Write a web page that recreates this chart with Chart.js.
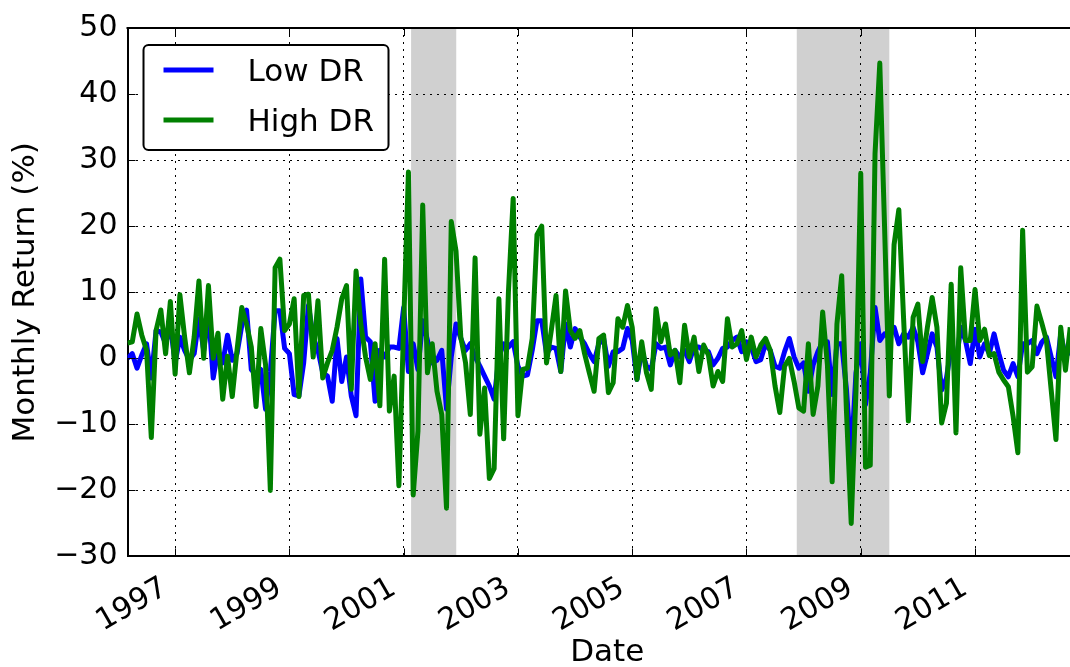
<!DOCTYPE html>
<html lang="en">
<head>
<meta charset="UTF-8">
<title>Monthly Return: Low DR vs High DR</title>
<script src="https://cdn.jsdelivr.net/npm/chart.js"></script>
<style>
  html, body { margin: 0; background: #fff; overflow: hidden; }
</style>
</head>
<body>
<!-- the axes run a little past the right edge of the window, as in the original figure -->
<canvas id="returnsChart" width="1087" height="667"></canvas>
<script>
// first point of the series: end of Feb 1996, one value per month
var startYear = 1996;
var startMonth = 2;

var lowDR = [
  0, 0.7, -1.5, 0.5, 2.2, -3, 4.2, 4, 2.2, 5, -0.7, 3.2, 1.2, -0.3, 0.7, 6, 1.2, 7, -3, 1.2,
  -0.7, 3.5, -0.3, 0.7, 5, 7.3, -1.7, -2.5, -1.7, -7.7, -2, 7.2, 7.2, 1.5, 0.7, -5.5, -5.7, -0.7, 8, 3.2,
  1.2, -2.2, -2.7, -6.5, 3, -3.5, 0.2, -5.7, -8.7, 12, 3.2, 2.5, -6.5, 1.2, 0.2, 1.7, 1.7, 1.5, 7.7, -2,
  2.2, -1.7, 5.7, 2.7, -0.7, -0.3, 1.2, -7.7, 0.2, 5.2, 3, 1.2, 2.2, 0.2, -1.2, -2.7, -4.2, -6.2, 0.2, 2.2,
  1.7, 2.5, -1.2, -2.7, -2.5, 1.2, 5.7, 5.7, 0.7, 1.7, 1.5, -2, 5.2, 1.7, 4.5, 3.2, 2.2, 0.7, -0.5, 2.2,
  3, -1.2, 1, 1, 1.5, 4.5, 2.7, -3.2, 1.2, -1.2, -1.7, 2.2, 1.5, 1.7, -1, 1.2, 0.2, 1.2, -0.5, 1.7,
  1.7, 1.2, 1, -1, 0, 1.5, 1.7, 2.7, 3.2, 1, 2.5, 1.7, -0.5, -0.2, 2.2, 1.2, -1.2, -1.5, 1, 3,
  0.2, -1.5, -0.7, -5, -1, 1, 2.5, 2.5, -5.5, 2.2, 2.2, -4.7, -15, -2.2, 2.2, -7, -2.2, 7.7, 2.7, 3.7,
  3.2, 4.7, 2.2, 3.7, 3.2, 4.7, 2.5, -2.2, 0.7, 3.7, 1.7, -4.8, -3, 1.7, -0.8, 4.7, 2.7, -0.8, 4.4, 0.2,
  2.2, 0.7, 3.7, 0.7, -1.8, -2.8, -0.8, -2.8, 2.2, 2.2, 2.7, 0.7, 2.4, 3.2, 0.2, -2.8, 3.7, 0.2, 1.2
];

var highDR = [
  2.3, 2.5, 6.7, 3.5, 1.2, -12, 4.2, 7.3, 0.7, 8.6, -2.4, 9.6, 3.2, -2.2, 3.2, 11.7, 0, 11, 0, 3.8,
  -6.2, 0.3, -5.8, 1.2, 7.7, 5.2, 1.7, -7.3, 4.5, -1, -20, 13.7, 15, 4.2, 5.2, 9, -5.8, 9.5, 9.7, 0.2,
  8.7, -3, -0.7, 1.2, 4.7, 9, 11, -4.7, 13.2, 5.2, 0.2, -3.2, 2.2, -7.2, 15, -8, -2.7, -19.3, 5, 28.2,
  -20.7, -11, 23.2, -2.2, 2.2, -5, -8.5, -22.7, 20.7, 16.2, 3.2, -0.7, -8.5, 15.2, -11.5, -4.5, -18.2, -16.7, 9, -12.2,
  10, 24.2, -8.7, -1.7, -1.5, 3, 18.7, 20, -0.7, 4.2, 9.5, -2, 10.2, 4.2, 3, 4.2, 0.7, -2.2, -5, 3,
  3.5, -5.2, -3.7, 6, 4.7, 8, 4.7, -3.2, 2.5, -2.2, -4.7, 7.5, 2.5, 5.2, 0.5, 1.2, -3.7, 5, 0.2, 3.2,
  -2, 2, 0.5, -4.2, -2, -3.5, 6, 1.7, 2.2, 4.2, -0.2, 3.2, 0.2, 2, 3, 1.2, -4.2, -8.2, -1.2, 0,
  -3.5, -7.5, -8, 2.2, -8.5, -4.2, 7, -1, -18.7, 5.2, 12.5, -8, -25, -5, 28, -16.5, -16.2, 31, 44.7, 20,
  -5.7, 17.2, 22.5, 6, -9.5, 6.2, 8.2, -0.5, 4.7, 9.2, 4.7, -9.8, -6.8, 11.2, -11.3, 13.7, 2.7, 2.7, 10.4, 2.7,
  4.4, 0.4, 0.7, -2.1, -3.3, -4.3, -8.8, -14.3, 19.4, -2.1, -1.3, 7.9, 5.4, 2.7, -4.8, -12.3, 4.7, -1.8, 4.7
];

var seriesNames = ['Low DR', 'High DR'];
var seriesColors = ['rgb(0, 0, 255)', 'rgb(0, 128, 0)'];

var yearTicks = [1997, 1999, 2001, 2003, 2005, 2007, 2009, 2011];

// shaded recession periods (decimal years)
var recessionStart = [2001.13, 2007.88];
var recessionEnd = [2001.92, 2009.5];

// right end of the x axis (a bit past the last month)
var xAxisEnd = 2012.96;

var FONT = 'DejaVu Sans';

function toPoints(values) {
    return values.map(function (v, i) {
        return { x: startYear + (startMonth + i) / 12, y: v };
    });
}

var firstX = startYear + startMonth / 12;

// gray bands behind everything
var shadePlugin = {
    id: 'shade',
    beforeDraw: function (chart) {
        var ctx = chart.ctx, area = chart.chartArea, xs = chart.scales.x;
        ctx.save();
        ctx.fillStyle = '#d0d0d0';
        for (var k = 0; k < recessionStart.length; k++) {
            var x0 = xs.getPixelForValue(recessionStart[k]);
            var x1 = xs.getPixelForValue(recessionEnd[k]);
            ctx.fillRect(x0, area.top, x1 - x0, area.bottom - area.top);
        }
        ctx.restore();
    }
};

// top and right spines, inward tick marks and the framed legend
var framePlugin = {
    id: 'frame',
    afterDraw: function (chart) {
        var ctx = chart.ctx, area = chart.chartArea;
        var xs = chart.scales.x, ys = chart.scales.y;
        ctx.save();
        ctx.strokeStyle = 'black';
        ctx.lineWidth = 2;
        ctx.beginPath();
        ctx.moveTo(area.left - 1, area.top);
        ctx.lineTo(area.right - 1, area.top);
        ctx.lineTo(area.right - 1, area.bottom);
        ctx.stroke();

        ctx.lineWidth = 1;
        ctx.beginPath();
        xs.ticks.forEach(function (t) {
            var px = Math.round(xs.getPixelForValue(t.value)) + 0.5;
            ctx.moveTo(px, area.bottom);
            ctx.lineTo(px, area.bottom - 8);
            ctx.moveTo(px, area.top);
            ctx.lineTo(px, area.top + 8);
        });
        ys.ticks.forEach(function (t) {
            var py = Math.round(ys.getPixelForValue(t.value)) + 0.5;
            ctx.moveTo(area.left, py);
            ctx.lineTo(area.left + 8, py);
        });
        ctx.stroke();

        // legend
        var bx = area.left + 16, by = area.top + 17, bw = 245, bh = 105;
        ctx.fillStyle = 'white';
        ctx.lineWidth = 2;
        ctx.beginPath();
        ctx.roundRect(bx, by, bw, bh, 5);
        ctx.fill();
        ctx.stroke();
        ctx.font = '31px "' + FONT + '"';
        ctx.textBaseline = 'alphabetic';
        ctx.textAlign = 'left';
        chart.data.datasets.forEach(function (ds) {
            var row = seriesNames.indexOf(ds.label);
            var ly = by + 25 + row * 50;
            ctx.strokeStyle = ds.borderColor;
            ctx.lineWidth = 5;
            ctx.beginPath();
            ctx.moveTo(bx + 20, ly);
            ctx.lineTo(bx + 70, ly);
            ctx.stroke();
            ctx.fillStyle = 'black';
            ctx.fillText(ds.label, bx + 104, ly + 11);
        });
        ctx.restore();
    }
};

var ctx = document.getElementById('returnsChart').getContext('2d');
var returnsChart = new Chart(ctx, {
    type: 'line',
    data: {
        datasets: [{
            label: seriesNames[1],
            data: toPoints(highDR),
            borderColor: seriesColors[1],
            borderWidth: 5,
            pointRadius: 0,
            tension: 0,
            borderJoinStyle: 'round',
            order: 0
        }, {
            label: seriesNames[0],
            data: toPoints(lowDR),
            borderColor: seriesColors[0],
            borderWidth: 5,
            pointRadius: 0,
            tension: 0,
            borderJoinStyle: 'round',
            order: 1
        }]
    },
    options: {
        responsive: false,
        animation: false,
        layout: { padding: { top: 23, right: 0, left: 0, bottom: 0 } },
        plugins: {
            legend: { display: false },
            tooltip: { enabled: false }
        },
        scales: {
            x: {
                type: 'linear',
                min: firstX,
                max: xAxisEnd,
                afterBuildTicks: function (axis) {
                    axis.ticks = yearTicks.map(function (v) { return { value: v }; });
                },
                grid: { color: 'black', lineWidth: 1, drawTicks: false },
                border: { display: true, color: 'black', width: 2, dash: [2, 5] },
                ticks: {
                    color: 'black',
                    font: { family: FONT, size: 30 },
                    maxRotation: 30,
                    minRotation: 30,
                    padding: 14,
                    labelOffset: -10,
                    autoSkip: false,
                    callback: function (v) { return String(v); }
                },
                title: {
                    display: true,
                    text: 'Date',
                    color: 'black',
                    font: { family: FONT, size: 31 },
                    padding: { top: -19, bottom: -5 }
                }
            },
            y: {
                min: -30,
                max: 50,
                grid: { color: 'black', lineWidth: 1, drawTicks: false },
                border: { display: true, color: 'black', width: 2, dash: [2, 5] },
                ticks: {
                    stepSize: 10,
                    color: 'black',
                    font: { family: FONT, size: 30 },
                    padding: 10,
                    callback: function (v) { return String(v).replace('-', '\u2212'); }
                },
                title: {
                    display: true,
                    text: 'Monthly Return (%)',
                    color: 'black',
                    font: { family: FONT, size: 31 },
                    padding: { top: 7, bottom: 0 }
                }
            }
        }
    },
    plugins: [shadePlugin, framePlugin]
});
</script>
</body>
</html>
